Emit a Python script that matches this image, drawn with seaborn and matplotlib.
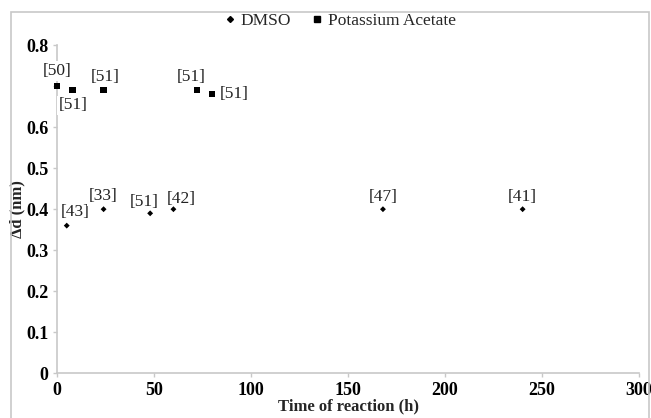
import pandas as pd
import numpy as np
import seaborn as sns
from matplotlib import pyplot as plt
from matplotlib.patches import Rectangle
from matplotlib.lines import Line2D

# DMSO series
dmsoTime = [5, 24, 48, 60, 168, 240]
dmsoDelta = [0.36, 0.40, 0.39, 0.40, 0.40, 0.40]
dmsoRefs = ['[43]', '[33]', '[51]', '[42]', '[47]', '[41]']

# Potassium acetate series
kacTime = [0, 8, 24, 72, 80]
kacDelta = [0.70, 0.69, 0.69, 0.69, 0.68]
kacRefs = ['[50]', '[51]', '[51]', '[51]', '[51]']

# y tick labels (0.7 is hidden behind the labels in the original)
yTickLabels = ['0', '0.1', '0.2', '0.3', '0.4', '0.5', '0.6', '', '0.8']
xTickLabels = ['0', '50', '100', '150', '200', '250', '300']

data = pd.concat([
    pd.DataFrame({'time': dmsoTime, 'delta': dmsoDelta, 'ref': dmsoRefs, 'solvent': 'DMSO'}),
    pd.DataFrame({'time': kacTime, 'delta': kacDelta, 'ref': kacRefs, 'solvent': 'Potassium Acetate'}),
], ignore_index=True)

sns.set_style('white')
plt.rcParams['font.family'] = ['Liberation Serif', 'DejaVu Serif']

fig = plt.figure(figsize=(6.51, 4.18), dpi=100)
ax = fig.add_axes([0.0876, 0.107, 0.894, 0.785])

ax = sns.scatterplot(data=data, x='time', y='delta', hue='solvent', style='solvent',
                     markers={'DMSO': 'D', 'Potassium Acetate': 's'},
                     palette={'DMSO': 'black', 'Potassium Acetate': 'black'},
                     size='solvent', sizes={'DMSO': 9, 'Potassium Acetate': 20},
                     edgecolor='none', clip_on=False, zorder=5, ax=ax, legend=False)

# label offsets in pixels (dx, dy), dy positive = up
offsets = {
    ('DMSO', 0): (8, 14), ('DMSO', 1): (0, 13), ('DMSO', 2): (-6, 11),
    ('DMSO', 3): (8, 10), ('DMSO', 4): (0, 12), ('DMSO', 5): (0, 12),
    ('Potassium Acetate', 0): (0, 15), ('Potassium Acetate', 1): (1, -15),
    ('Potassium Acetate', 2): (2, 13), ('Potassium Acetate', 3): (-6, 13),
    ('Potassium Acetate', 4): (22, 0),
}
for name, grp in data.groupby('solvent'):
    for i, (_, row) in enumerate(grp.iterrows()):
        dx, dy = offsets[(name, i)]
        ax.annotate(row['ref'], (row['time'], row['delta']), xytext=(dx, dy),
                    textcoords='offset pixels', ha='center', va='center',
                    fontsize=12.5, color='#222222', zorder=4,
                    bbox=dict(boxstyle='square,pad=0.1', fc='white', ec='none'))

ax.set_xlim(0, 300)
ax.set_ylim(0, 0.8)
ax.set_xticks([0, 50, 100, 150, 200, 250, 300])
ax.set_yticks(np.arange(0, 0.81, 0.1))
ax.set_xticklabels(xTickLabels)
ax.set_yticklabels(yTickLabels)
for lbl in ax.get_xticklabels() + ax.get_yticklabels():
    lbl.set_fontweight('bold')
    lbl.set_fontsize(13)
ax.set_xlabel('Time of reaction (h)', fontsize=12, fontweight='bold', labelpad=0)
ax.set_ylabel('Δd (nm)', fontsize=12, fontweight='bold', labelpad=1)

sns.despine(ax=ax)
for side in ['left', 'bottom']:
    ax.spines[side].set_color('#c8c8c8')
    ax.spines[side].set_linewidth(1.2)
ax.tick_params(axis='both', which='both', length=3, width=1, color='#c8c8c8',
               direction='out', left=True, bottom=True, labelcolor='black')
ax.tick_params(axis='x', pad=3)
ax.tick_params(axis='y', pad=3)

# legend on top
handles = [Line2D([], [], ls='none', marker='D', ms=3, color='black'),
           Line2D([], [], ls='none', marker='s', ms=4.5, color='black')]
fig.legend(handles, ['DMSO', 'Potassium Acetate'], loc='center',
           bbox_to_anchor=(0.52, 0.950), ncol=2, frameon=False, fontsize=12.5,
           handletextpad=0.1, columnspacing=1.0, handlelength=1)

# outer chart frame
fig.patches.append(Rectangle((11 / 651, -0.05), 638 / 651, 1 - 12 / 418 + 0.05,
                             transform=fig.transFigure, fill=False,
                             edgecolor='#c8c8c8', lw=1.2, zorder=0))

fig.savefig('out.png', dpi=100)
